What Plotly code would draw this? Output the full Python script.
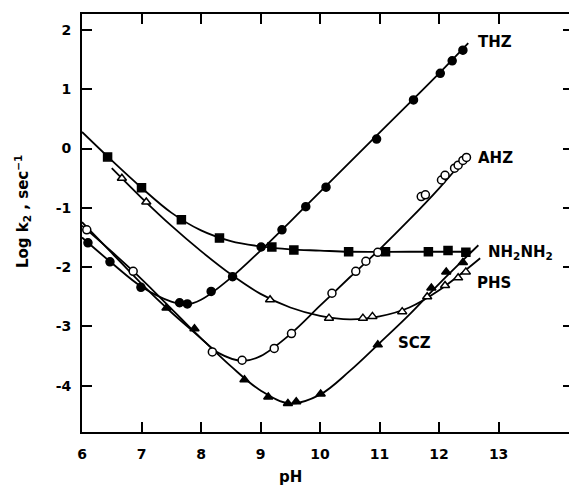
import plotly.graph_objects as go

# ---------------- data ----------------
# Measured points (markers)
thz_x = [6.10, 6.47, 6.99, 7.64, 7.77, 8.17, 8.53, 9.01, 9.36, 9.76, 10.10, 10.95, 11.57, 12.02, 12.22, 12.40]
thz_y = [-1.59, -1.91, -2.34, -2.60, -2.62, -2.41, -2.16, -1.66, -1.37, -0.98, -0.65, 0.16, 0.82, 1.27, 1.48, 1.66]

hyd_x = [6.43, 7.00, 7.67, 8.31, 9.19, 9.56, 10.48, 11.10, 11.82, 12.15, 12.45]
hyd_y = [-0.14, -0.66, -1.20, -1.51, -1.66, -1.71, -1.74, -1.74, -1.74, -1.72, -1.75]

phs_x = [6.67, 7.08, 9.16, 10.15, 10.72, 10.88, 11.38, 11.80, 12.10, 12.32, 12.45]
phs_y = [-0.50, -0.90, -2.55, -2.86, -2.86, -2.83, -2.75, -2.50, -2.31, -2.18, -2.08]

ahz_x = [6.08, 6.86, 8.19, 8.69, 9.23, 9.52, 10.20, 10.60, 10.77, 10.97, 11.70, 11.77, 12.04, 12.10, 12.26, 12.32, 12.40, 12.46]
ahz_y = [-1.37, -2.07, -3.43, -3.57, -3.37, -3.12, -2.44, -2.07, -1.90, -1.75, -0.81, -0.78, -0.53, -0.45, -0.33, -0.28, -0.20, -0.15]

scz_x = [7.42, 7.89, 8.73, 9.13, 9.46, 9.60, 10.01, 10.97, 11.87, 12.12, 12.40]
scz_y = [-2.69, -3.04, -3.90, -4.19, -4.30, -4.27, -4.14, -3.31, -2.35, -2.08, -1.92]

# Fitted curves
thz_cx = [6.0, 6.5, 7.0, 7.5, 7.75, 8.0, 8.5, 9.0, 9.5, 10.0, 11.0, 12.0, 12.49]
thz_cy = [-1.50, -1.93, -2.33, -2.58, -2.63, -2.55, -2.18, -1.72, -1.23, -0.73, 0.27, 1.27, 1.78]

hyd_cx = [6.0, 6.5, 7.0, 7.5, 8.0, 8.5, 9.0, 9.5, 10.0, 10.5, 11.5, 12.55]
hyd_cy = [0.28, -0.20, -0.66, -1.08, -1.38, -1.56, -1.65, -1.70, -1.72, -1.74, -1.74, -1.74]

phs_cx = [6.5, 7.0, 7.5, 8.0, 8.5, 9.0, 9.5, 10.0, 10.5, 11.0, 11.5, 12.0, 12.69]
phs_cy = [-0.33, -0.83, -1.30, -1.73, -2.12, -2.45, -2.68, -2.82, -2.88, -2.83, -2.68, -2.39, -1.85]

ahz_cx = [6.0, 6.5, 7.0, 7.5, 8.0, 8.3, 8.7, 9.0, 9.5, 10.0, 10.5, 11.0, 11.5, 12.0, 12.45]
ahz_cy = [-1.30, -1.74, -2.20, -2.70, -3.20, -3.45, -3.58, -3.50, -3.13, -2.65, -2.17, -1.70, -1.20, -0.67, -0.15]

scz_cx = [6.0, 6.5, 7.0, 7.5, 8.0, 8.5, 9.0, 9.5, 10.0, 10.5, 11.0, 11.5, 12.0, 12.66]
scz_cy = [-1.24, -1.76, -2.28, -2.76, -3.20, -3.67, -4.08, -4.30, -4.15, -3.75, -3.28, -2.80, -2.28, -1.63]

x_ticks = [6, 7, 8, 9, 10, 11, 12, 13]
y_ticks = [-4, -3, -2, -1, 0, 1, 2]

labels = ["THZ", "AHZ", "NH<sub>2</sub>NH<sub>2</sub>", "PHS", "SCZ"]
label_x = [12.62, 12.62, 12.79, 12.60, 11.27]
label_y = [1.80, -0.16, -1.76, -2.27, -3.28]

x_title = "pH"
y_title = "Log k<sub>2</sub> , sec<sup>−1</sup>"

# ---------------- figure ----------------
fig = go.Figure()
K = "black"
FONT = "DejaVu Sans, Liberation Sans, Arial"

curves = [(thz_cx, thz_cy), (hyd_cx, hyd_cy), (phs_cx, phs_cy), (ahz_cx, ahz_cy), (scz_cx, scz_cy)]
for cx, cy in curves:
    fig.add_trace(go.Scatter(x=cx, y=cy, mode="lines",
                             line=dict(color=K, width=1.8, shape="spline", smoothing=1.0),
                             hoverinfo="skip", showlegend=False))

def pts(x, y, symbol, fill, size):
    fig.add_trace(go.Scatter(x=x, y=y, mode="markers",
                             marker=dict(symbol=symbol, size=size, color=fill,
                                         line=dict(color=K, width=1.5)),
                             showlegend=False))

pts(thz_x, thz_y, "circle", K, 8)
pts(hyd_x, hyd_y, "square", K, 8)
pts(phs_x, phs_y, "triangle-up", "white", 8)
pts(ahz_x, ahz_y, "circle", "white", 8)
pts(scz_x, scz_y, "triangle-up", K, 8)

for t, lx, ly in zip(labels, label_x, label_y):
    fig.add_annotation(x=lx, y=ly, text=t, showarrow=False, xanchor="left", yanchor="middle",
                       font=dict(family=FONT, size=15, color=K, weight="bold"))

# axis titles as annotations (placed like the original)
fig.add_annotation(x=9.5, y=0, yref="paper", text=x_title, showarrow=False,
                   xanchor="center", yanchor="top", yshift=-34,
                   font=dict(family=FONT, size=15, color=K, weight="bold"))
fig.add_annotation(x=0, xref="paper", y=-1.07, text=y_title, showarrow=False, textangle=-90,
                   xanchor="center", yanchor="middle", xshift=-60,
                   font=dict(family=FONT, size=15, color=K, weight="bold"))

axis_common = dict(showgrid=False, zeroline=False, showline=True, linecolor=K, linewidth=2,
                   mirror="allticks", ticks="inside", ticklen=10, tickwidth=1.5, tickcolor=K,
                   tickfont=dict(family=FONT, size=14, color=K, weight="bold"))

fig.update_xaxes(range=[6, 14.25], tickvals=x_ticks, ticktext=[str(v) for v in x_ticks],
                 ticklabelstandoff=8, **axis_common)
fig.update_yaxes(range=[-4.78, 2.27], tickvals=y_ticks, ticktext=[str(v) for v in y_ticks],
                 ticklabelstandoff=6, **axis_common)

# page has an 8px body margin, so the figure is 8px smaller and offset
fig.update_layout(width=569, height=482, margin=dict(l=74, r=2, t=6, b=58),
                  plot_bgcolor="white", paper_bgcolor="white")

fig.write_html("out.html")
